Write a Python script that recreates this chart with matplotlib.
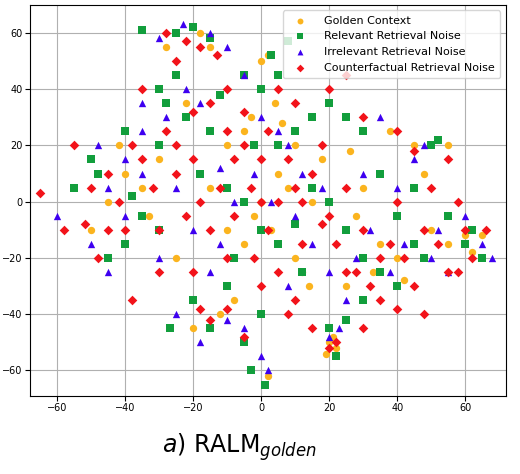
import matplotlib
matplotlib.use("Agg")
import matplotlib.pyplot as plt
import numpy as np

golden = [(-18,60),(-15,55),(-22,35),(-10,20),(-5,25),(0,50),(2,52),(5,10),(8,5),(-2,-5),(3,-10),(10,-20),(15,0),
          (18,15),(20,-50),(22,-52),(21,-48),(19,-54),(25,-30),(30,5),(35,-15),(40,-20),(45,20),(50,-10),(55,-15),
          (60,-12),(62,-18),(-30,15),(-35,5),(-40,10),(-45,0),(-25,-20),(-12,-40),(-8,-35),(-3,30),(6,28),(12,-25),
          (28,-5),(33,-25),(48,10),(-20,-45),(0,0),(4,35),(-42,20),(14,-30),(38,25),(-28,55),(-15,5),(-5,-15),(65,-12),
          (-50,-10),(10,20),(-10,-10),(2,-62),(42,-28),(-33,-5),(26,18),(55,20)]
relevant = [(-40,25),(-30,20),(-48,10),(-35,-5),(-25,60),(-20,62),(-15,58),(-35,61),(-22,30),(-28,35),(-12,38),
            (-5,45),(0,40),(5,45),(8,57),(-2,20),(5,20),(10,25),(15,30),(20,35),(25,30),(-18,10),(-10,5),(-5,0),
            (0,-10),(5,-15),(15,5),(20,0),(25,-10),(30,-20),(35,-25),(40,-5),(45,-15),(50,20),(52,22),(55,-5),
            (60,-15),(65,-20),(20,-45),(22,-55),(25,-42),(30,-35),(-10,-30),(-15,-45),(-5,-50),(-20,-35),(0,-40),
            (-40,-15),(-50,15),(-55,5),(-45,-20),(-30,-10),(-3,-60),(1,-65),(12,-25),(35,10),(40,-30),(45,5),
            (-25,45),(-8,-20),(10,-8),(-15,25),(30,25),(-30,40),(-38,2),(48,-20),(62,-10),(-27,-45),(3,52)]
irrelevant = [(-60,-5),(-50,-15),(-45,5),(-40,15),(-35,25),(-30,-20),(-25,5),(-22,40),(-18,35),(-15,60),(-10,55),
              (-30,58),(-5,45),(0,30),(5,25),(8,20),(-2,10),(3,0),(10,-5),(15,-15),(20,-25),(25,-35),(28,-20),
              (32,-10),(35,30),(38,-25),(42,-15),(45,15),(50,-20),(55,-25),(60,-5),(65,-15),(68,-20),(-20,-10),
              (-15,-25),(-10,-42),(-5,-45),(-18,-50),(0,-55),(2,-60),(20,-48),(23,-45),(-40,-5),(-45,-25),
              (-48,20),(-35,10),(-28,30),(-12,12),(-8,0),(12,10),(18,5),(40,5),(48,20),(-25,-40),(-35,35),(30,10),
              (-23,63),(8,-30),(-12,-15),(52,-10)]
counter = [(-65,3),(-58,-10),(-55,20),(-50,5),(-48,-20),(-45,10),(-42,0),(-40,-10),(-38,20),(-35,15),(-32,5),
           (-30,-10),(-28,25),(-25,10),(-22,-5),(-20,15),(-18,0),(-15,-10),(-12,5),(-10,-20),(-8,15),(-5,20),
           (-3,5),(0,15),(2,-10),(5,0),(8,15),(10,5),(12,-15),(15,10),(18,20),(20,-5),(22,-15),(25,5),(28,-25),
           (30,-10),(32,-30),(35,-20),(38,-15),(40,0),(42,-20),(45,-30),(48,-10),(50,5),(52,-15),(55,-25),
           (58,0),(60,-10),(62,-20),(66,-10),(-28,60),(-22,57),(-18,55),(-13,52),(-25,50),(-35,40),(-20,32),
           (-15,35),(-10,25),(-5,32),(5,40),(10,35),(20,40),(25,45),(30,30),(40,25),(48,-40),(-18,-38),(-15,-42),
           (-10,-38),(-5,-48),(0,-30),(5,-25),(10,-35),(15,-45),(20,-52),(22,-50),(25,-25),(35,-35),(40,-38),
           (-45,-10),(-52,-8),(-30,-25),(-8,-5),(2,25),(12,0),(45,18),(55,15),(-2,-20),(18,-8),(-38,-35),(-20,-25),
           (8,-40),(30,-45),(58,-25),(-25,20),(-10,40),(0,0)]

series = [(golden, "Golden Context", "#fbb41e", "o"),
          (relevant, "Relevant Retrieval Noise", "#129e3c", "s"),
          (irrelevant, "Irrelevant Retrieval Noise", "#3d00f0", "^"),
          (counter, "Counterfactual Retrieval Noise", "#f2131a", "D")]

fig = plt.figure(figsize=(5.2, 4.74), dpi=100)
ax = fig.add_axes([0.058, 0.165, 0.915, 0.825])
for pts, lab, col, m in series:
    a = np.array(pts)
    ax.scatter(a[:, 0], a[:, 1], c=col, marker=m, s=28 if m != "D" else 24, label=lab, linewidths=0, zorder=3)
ax.set_xlim(-68, 72)
ax.set_ylim(-69, 70)
ax.set_xticks([-60, -40, -20, 0, 20, 40, 60])
ax.set_yticks([-60, -40, -20, 0, 20, 40, 60])
ax.tick_params(labelsize=7, pad=2)
ax.grid(True, color="#b0b0b0", linewidth=0.8)
ax.set_axisbelow(True)
ax.legend(loc="upper right", fontsize=8, markerscale=0.8, handletextpad=1.2, borderpad=0.5)
fig.text(0.46, 0.045, r"$a)\ \mathrm{RALM}_{golden}$", fontsize=17, ha="center")
fig.savefig("out.png", dpi=100)
